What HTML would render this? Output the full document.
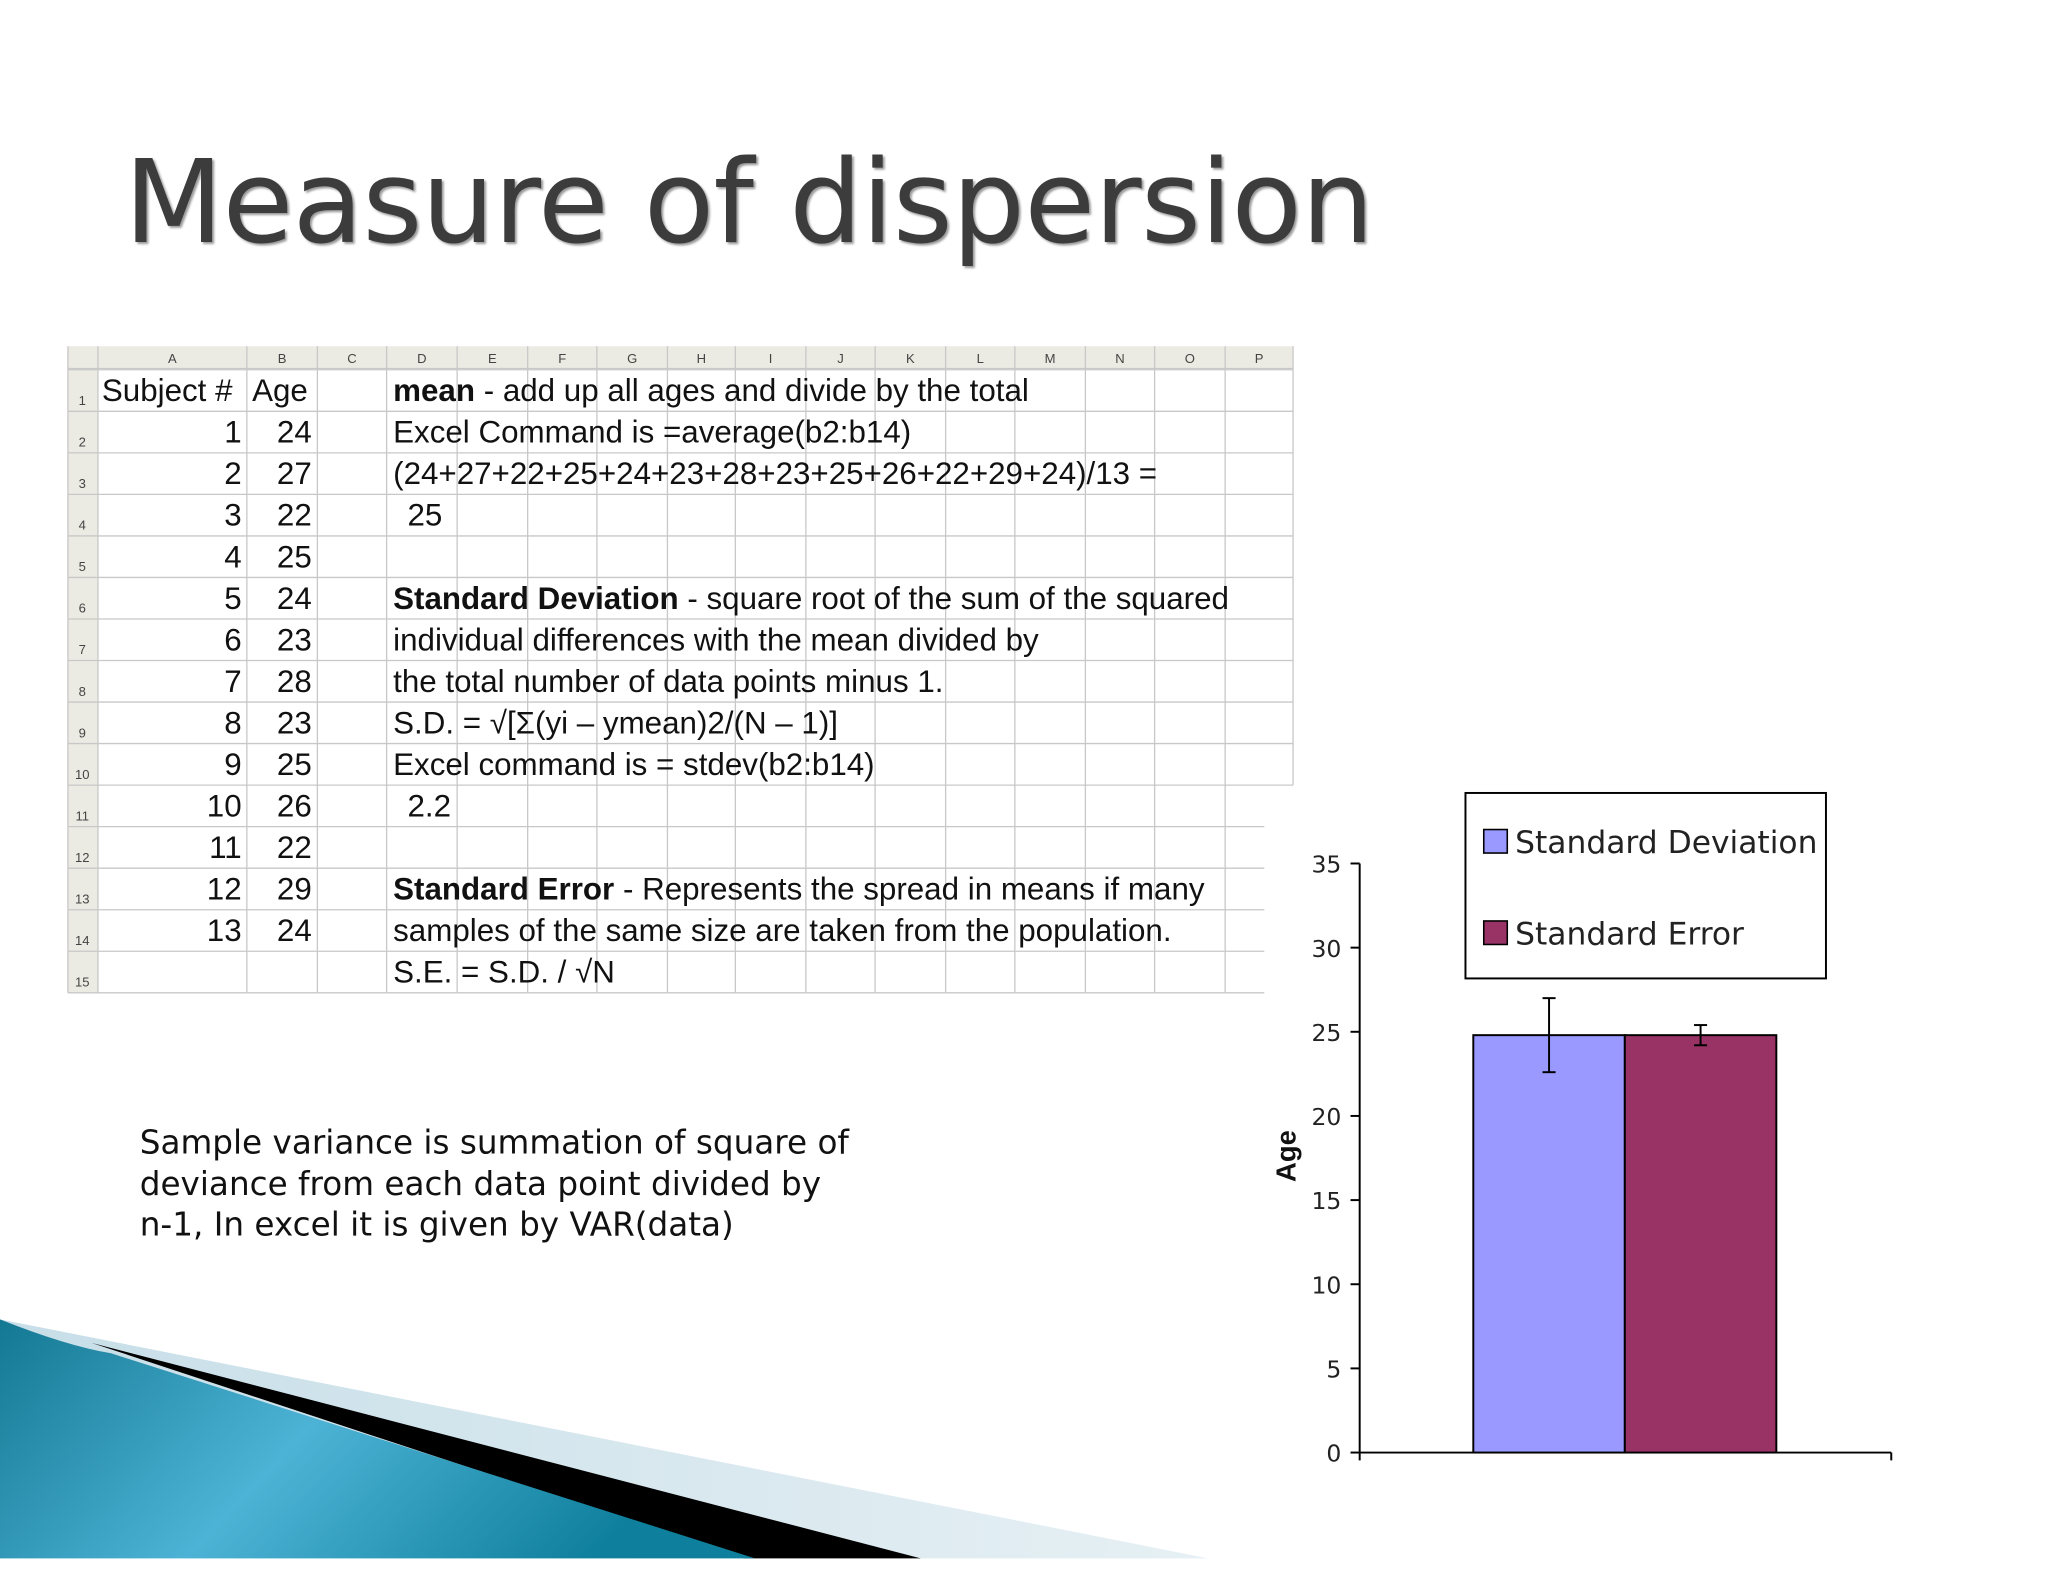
<!DOCTYPE html>
<html><head><meta charset="utf-8"><style>
html,body{margin:0;padding:0;background:#fff;}
svg{display:block;}
.cell{font-family:"Liberation Sans Narrow","Liberation Sans",sans-serif;font-size:24px;fill:#111;}
</style></head><body>
<svg id="page" width="2048" height="1582" viewBox="0 0 1568 1211" xmlns="http://www.w3.org/2000/svg">
<defs>
<linearGradient id="teal" x1="0" y1="0" x2="1" y2="0.3">
<stop offset="0" stop-color="#137892"/><stop offset="0.5" stop-color="#4db3d6"/><stop offset="1" stop-color="#0e7f9c"/></linearGradient>
<linearGradient id="light" x1="0" y1="0" x2="1" y2="0">
<stop offset="0" stop-color="#c7dee8"/><stop offset="1" stop-color="#e6f0f4"/></linearGradient>
</defs>
<rect width="1568" height="1211" fill="#fff"/>
<text x="95" y="185" font-family="'DejaVu Sans','Liberation Sans',sans-serif" font-size="88" fill="#3c3c3c" textLength="957" style="text-shadow:2px 2px 2px #999">Measure of dispersion</text>

<g>
<rect x="52" y="265" width="938" height="17" fill="#ecebe3"/>
<rect x="52" y="265" width="23" height="495" fill="#ecebe3"/>
<g id="grid" stroke="#c8c8c8" stroke-width="1"></g>
<g id="hdr" font-family="Liberation Sans,sans-serif" font-size="10" fill="#444"></g>
<g id="cells"></g>
</g>

<g>
<polygon points="0,1010 925,1193 0,1193" fill="url(#light)"/>
<polygon points="70,1028 705,1193 570,1193" fill="#000"/>
<path d="M0,1010 Q50,1030 85,1036 L578,1193 L0,1193 Z" fill="url(#teal)"/>
</g>

<g font-family="'DejaVu Sans','Liberation Sans',sans-serif" font-size="25" fill="#111">
<text x="107" y="883">Sample variance is summation of square of</text>
<text x="107" y="915">deviance from each data point divided by</text>
<text x="107" y="946">n-1, In excel it is given by VAR(data)</text>
</g>

<g id="chart"></g>
</svg>
<script>
const NS="http://www.w3.org/2000/svg";
function mk(tag,attrs,parent,txt){const e=document.createElementNS(NS,tag);for(const k in attrs)e.setAttribute(k,attrs[k]);if(txt!==undefined)e.textContent=txt;parent.appendChild(e);return e;}
// spreadsheet
const colX=[52,75,189,243,296,350,404,457,511,563,617,670,724,777,831,884,938,990];
const colNames=["A","B","C","D","E","F","G","H","I","J","K","L","M","N","O","P"];
const rowTop=283, rowH=31.8;
const subjects=["1","2","3","4","5","6","7","8","9","10","11","12","13",""];
const ages=["24","27","22","25","24","23","28","23","25","26","22","29","24",""];
const grid=document.getElementById('grid'),hdr=document.getElementById('hdr'),cells=document.getElementById('cells');
for(let i=0;i<colX.length;i++){mk('line',{x1:colX[i],y1:265,x2:colX[i],y2:i===colX.length-1?rowTop+10*rowH:760},grid);}
for(let r=0;r<=15;r++){const y=rowTop+r*rowH;mk('line',{x1:52,y1:y,x2:r<11?990:968,y2:y},grid);}
mk('line',{x1:52,y1:282,x2:990,y2:282},grid);
colNames.forEach((c,i)=>{mk('text',{x:(colX[i+1]+colX[i+2])/2,y:278,'text-anchor':'middle'},hdr,c);});
for(let r=0;r<15;r++){mk('text',{x:63,y:rowTop+r*rowH+27,'text-anchor':'middle'},hdr,String(r+1));}
function cell(x,y,t,anchor,bold){const e=mk('text',{x:x,y:y,class:'cell','text-anchor':anchor||'start'},cells);
 if(Array.isArray(t)){t.forEach(p=>{const s=mk('tspan',{},e,p[0]);if(p[1])s.setAttribute('font-weight','bold');});}else e.textContent=t;
 if(bold)e.setAttribute('font-weight','bold');return e;}
const base=r=>rowTop+r*rowH+24;
cell(78,base(0),"Subject #");cell(193,base(0),"Age");
subjects.forEach((s,i)=>{cell(185,base(i+1),s,'end');cell(212,base(i+1),ages[i]);});
const dtext=[[["mean",1],[" - add up all ages and divide by the total"]],"Excel Command is =average(b2:b14)","(24+27+22+25+24+23+28+23+25+26+22+29+24)/13 =","  25","",
[["Standard Deviation",1],[" - square root of the sum of the squared"]],"individual differences with the mean divided by","the total number of data points minus 1.","S.D. = √[Σ(yi – ymean)2/(N – 1)]","Excel command is = stdev(b2:b14)","  2.2","",
[["Standard Error",1],[" - Represents the spread in means if many"]],"samples of the same size are taken from the population.","S.E. = S.D. / √N"];
dtext.forEach((t,i)=>{if(t==="")return;cell(i===3||i===10?312:301,base(i),t);});
// chart
const seriesNames=["Standard Deviation","Standard Error"];
const values=[24.8,24.8];
const errors=[2.2,0.6];
const colors=["#9999ff","#993366"];
const yTicks=[0,5,10,15,20,25,30,35];
const ch=document.getElementById('chart');
const X0=1041,Y0=1112,Y35=661,XEND=1448;
const ys=v=>Y0-(v/35)*(Y0-Y35);
const barL=1128,barW=116;
mk('line',{x1:X0,y1:Y35,x2:X0,y2:Y0,stroke:'#000','stroke-width':1.5},ch);
const xa=mk('line',{x1:X0,y1:Y0,x2:XEND,y2:Y0,stroke:'#000','stroke-width':1.5},ch);

mk('line',{x1:XEND,y1:Y0,x2:XEND,y2:Y0+6,stroke:'#000','stroke-width':1.5},ch);
mk('line',{x1:X0,y1:Y0,x2:X0,y2:Y0+6,stroke:'#000','stroke-width':1.5},ch);
yTicks.forEach(t=>{mk('line',{x1:X0-7,y1:ys(t),x2:X0,y2:ys(t),stroke:'#000','stroke-width':1.5},ch);
 const tl=mk('text',{x:X0-14,y:ys(t)+7,'text-anchor':'end','font-family':"'DejaVu Sans',sans-serif",'font-size':18,fill:'#222'},ch,String(t));
 });
const yt=mk('text',{x:0,y:0,transform:'translate(992,885) rotate(-90)','text-anchor':'middle','font-family':"'Liberation Sans',sans-serif",'font-size':21,'font-weight':'bold',fill:'#111'},ch,'Age');

values.forEach((v,i)=>{const x=barL+i*barW;
 const b=mk('rect',{x:x,y:ys(v),width:barW,height:Y0-ys(v),fill:colors[i],stroke:'#000','stroke-width':1.5},ch);
 
 const cx=x+barW/2;
 const g=mk('g',{stroke:'#000','stroke-width':1.5},ch);
 
 mk('line',{x1:cx,y1:ys(v+errors[i]),x2:cx,y2:ys(v-errors[i])},g);
 mk('line',{x1:cx-5,y1:ys(v+errors[i]),x2:cx+5,y2:ys(v+errors[i])},g);
 mk('line',{x1:cx-5,y1:ys(v-errors[i]),x2:cx+5,y2:ys(v-errors[i])},g);});
const lg=mk('g',{},ch);

mk('rect',{x:1122,y:607,width:276,height:142,fill:'#fff',stroke:'#000','stroke-width':1.5},lg);
seriesNames.forEach((n,i)=>{const y=644+i*70;
 mk('rect',{x:1136,y:y-9,width:18,height:18,fill:colors[i],stroke:'#000','stroke-width':1.2},lg);
 const t=mk('text',{x:1160,y:y+9,'font-family':"'DejaVu Sans',sans-serif",'font-size':24,fill:'#222'},lg,n);
 });
</script>
</body></html>
